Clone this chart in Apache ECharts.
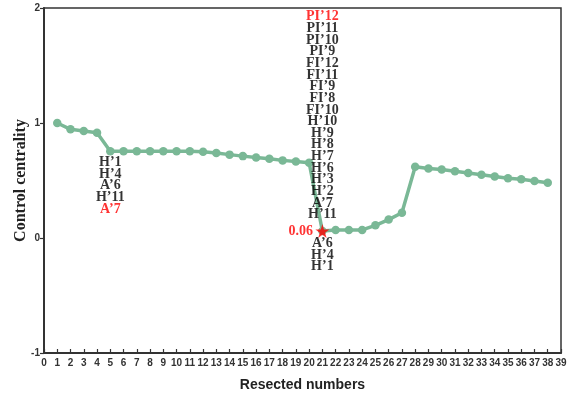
<!DOCTYPE html>
<html><head><meta charset="utf-8">
<script src="https://cdn.jsdelivr.net/npm/echarts@6/dist/echarts.min.js"></script>
<style>html,body{margin:0;padding:0;background:#fff}#c{width:574px;height:399px}</style>
</head><body><div id="c"></div>
<script>
const xValues = [1,2,3,4,5,6,7,8,9,10,11,12,13,14,15,16,17,18,19,20,21,22,23,24,25,26,27,28,29,30,31,32,33,34,35,36,37,38];
const centrality = [1.0,0.945,0.93,0.915,0.755,0.755,0.755,0.755,0.755,0.755,0.755,0.75,0.74,0.725,0.712,0.70,0.69,0.675,0.665,0.655,0.06,0.07,0.07,0.07,0.11,0.16,0.22,0.62,0.605,0.595,0.58,0.565,0.55,0.535,0.52,0.51,0.495,0.48];
const xTicks = {min:0, max:39, interval:1};
const yTicks = {min:-1, max:2, interval:1};
const starPoint = [21, 0.06];
const starLabel = '0.06';
const leftStack = ['H’1','H’4','A’6','H’11','A’7'];      // last one red
const topStack = ['PI’12','PI’11','PI’10','PI’9','FI’12','FI’11','FI’9','FI’8','FI’10','H’10','H’9','H’8','H’7','H’6','H’3','H’2','A’7','H’11']; // first red
const bottomStack = ['A’6','H’4','H’1'];

const serif = '"Liberation Serif","Times New Roman",serif';
const sans = '"Liberation Sans",Arial,sans-serif';
const txt = {fontFamily: serif, fontWeight:'bold', fontSize:14, lineHeight:11.65, color:'#000'};
const red = Object.assign({}, txt, {color:'#ff0000'});
const rich = {b: txt, r: red};

const leftFmt = leftStack.map((s,i)=> (i===leftStack.length-1?'{r|':'{b|')+s+'}').join('\n');
const topFmt = topStack.map((s,i)=> (i===0?'{r|':'{b|')+s+'}').join('\n');
const botFmt = bottomStack.map(s=>'{b|'+s+'}').join('\n');

const lineData = xValues.map((x,i)=>[x, centrality[i]]);

const chart = echarts.init(document.getElementById('c'));
chart.setOption({
  animation:false,
  grid:{left:44, right:13, top:8, bottom:46, show:true, borderColor:'#333', borderWidth:1.5, outerBoundsMode:'none', containLabel:false},
  xAxis:{type:'value', min:xTicks.min, max:xTicks.max, interval:xTicks.interval,
    name:'Resected numbers', nameLocation:'middle', nameGap:25, nameMoveOverlap:false,
    nameTextStyle:{fontFamily:sans, fontWeight:'bold', fontSize:14, color:'#222'},
    axisLine:{onZero:false, lineStyle:{color:'#333', width:2}},
    axisTick:{inside:true, length:4, lineStyle:{color:'#333', width:1.2}},
    axisLabel:{fontFamily:sans, fontWeight:'bold', fontSize:10, color:'#333', margin:5},
    splitLine:{show:false}},
  yAxis:{type:'value', min:yTicks.min, max:yTicks.max, interval:yTicks.interval,
    name:'Control centrality', nameLocation:'middle', nameGap:15, nameMoveOverlap:false,
    nameTextStyle:{fontFamily:serif, fontWeight:'bold', fontSize:16, color:'#222'},
    axisLine:{show:true, onZero:false, lineStyle:{color:'#333', width:2}},
    axisTick:{show:true, inside:false, length:4, lineStyle:{color:'#333', width:1.2}},
    axisLabel:{fontFamily:sans, fontWeight:'bold', fontSize:10, color:'#333', margin:4},
    splitLine:{show:false}},
  series:[
    {type:'line', data:lineData, symbol:'circle', symbolSize:8.5,
     lineStyle:{color:'#7ab896', width:3.5}, itemStyle:{color:'#7ab896'}, z:2},
    {type:'scatter', data:[starPoint], symbol:'path://M50,0 L61,35 L98,35 L68,57 L79,91 L50,70 L21,91 L32,57 L2,35 L39,35 Z',
     symbolSize:14, itemStyle:{color:'#ff0000'}, z:5},
    {type:'scatter', symbolSize:1, itemStyle:{color:'rgba(0,0,0,0)'}, z:6, silent:true,
     data:[
       {value:[5, centrality[4]], label:{show:true, position:'bottom', distance:5, formatter:leftFmt, rich:rich}},
       {value:starPoint, label:{show:true, position:'top', distance:10, formatter:topFmt, rich:rich}},
       {value:starPoint, label:{show:true, position:'bottom', distance:6, formatter:botFmt, rich:rich}},
       {value:starPoint, label:{show:true, position:'left', distance:9, formatter:starLabel,
         fontFamily:serif, fontWeight:'bold', fontSize:14, color:'#ff0000'}}
     ]}
  ]
});
</script></body></html>
